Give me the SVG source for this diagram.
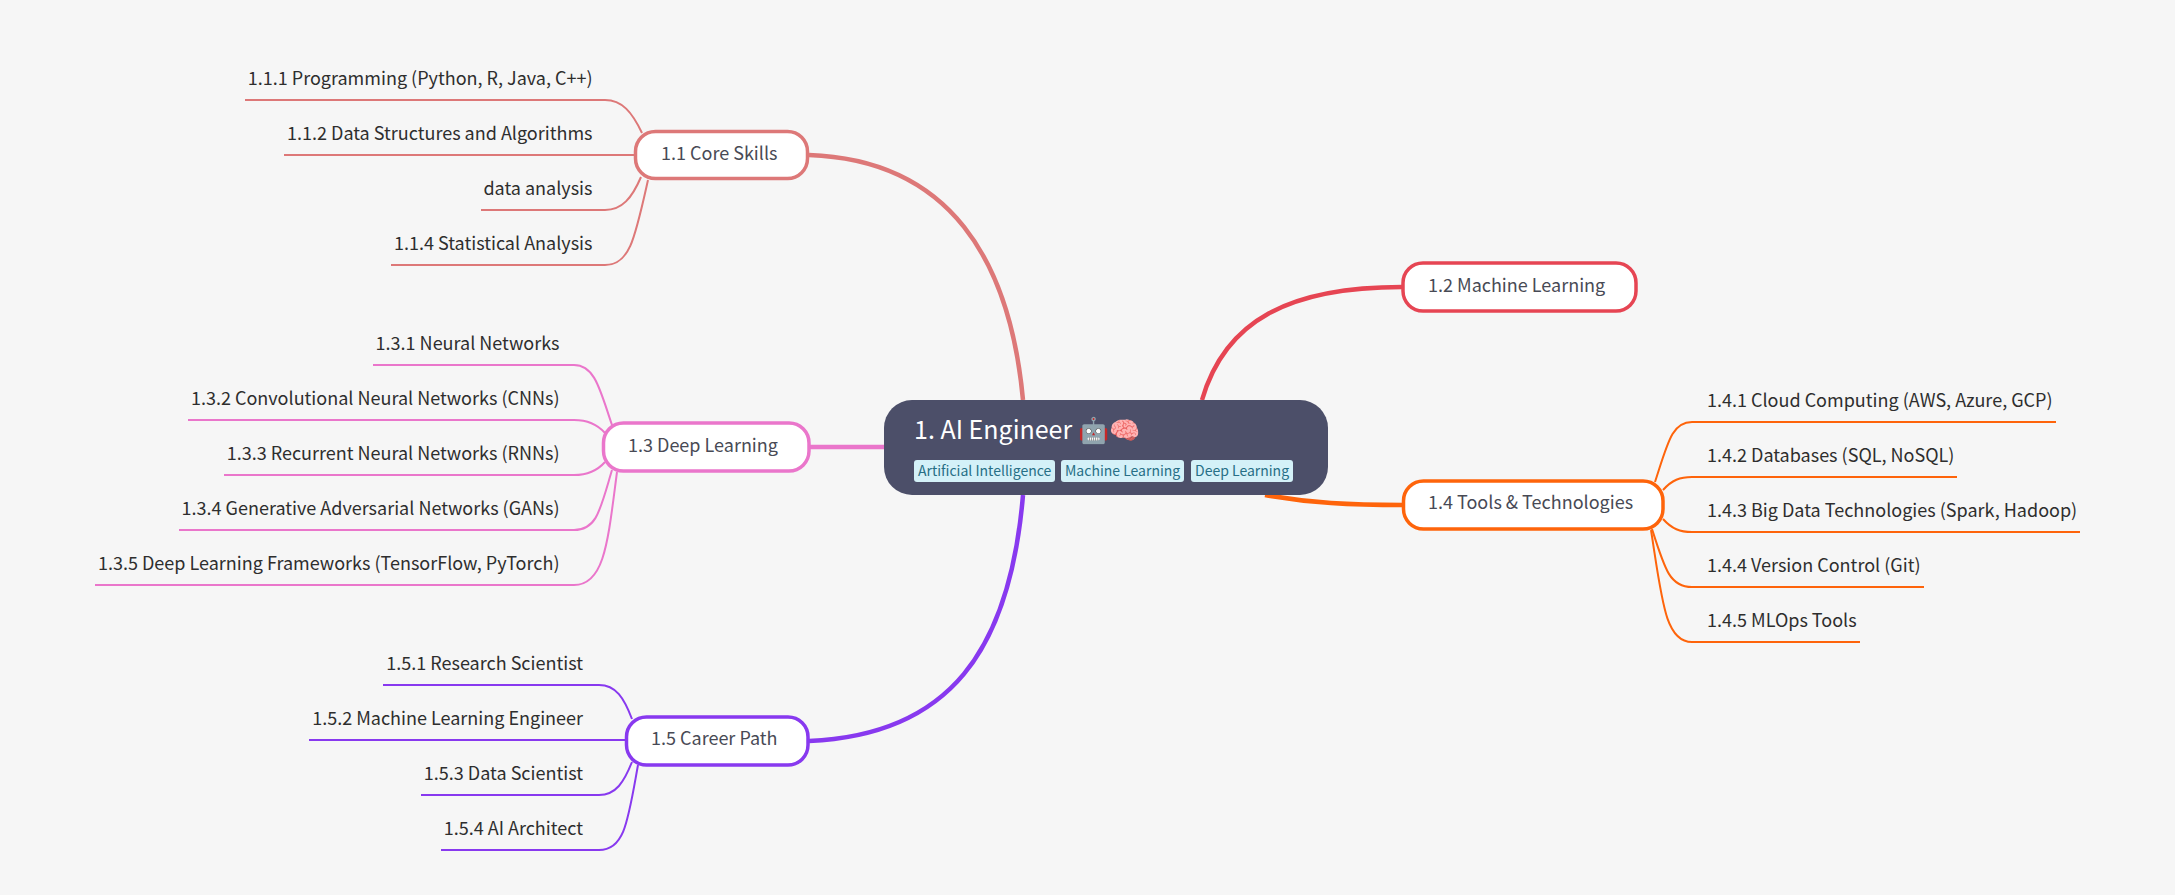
<svg xmlns="http://www.w3.org/2000/svg" width="2175" height="895" viewBox="0 0 2175 895">
<style>
text{font-family:"Noto Sans CJK SC","Noto Sans",sans-serif}
.sub{fill:none;stroke-width:2}
.main{fill:none;stroke-width:4.5}
.leaf{font-size:18px;fill:#2e2e2e}
.end{text-anchor:end}
.box{fill:#fff;stroke-width:3.5}
.topic{font-size:18px;fill:#484a55}
.tag{fill:#d4f1f8}
.tagt{font-size:14px;fill:#276f86}
.c11{stroke:#dd7878}.c12{stroke:#e64553}.c13{stroke:#ea76cb}.c14{stroke:#fe640b}.c15{stroke:#8839ef}
</style>
<rect width="2175" height="895" fill="#f6f6f6"/>
<g id="connectors">
<path class="main c11" d="M809 155C950 160 1010 260 1023 400"/>
<path class="main c12" d="M1202 400C1225 320 1290 287 1402 287"/>
<path class="main c13" d="M809 447H884"/>
<path class="main c14" d="M1265 495C1310 503 1350 505 1403 505"/>
<path class="main c15" d="M1023 495C1010 650 950 735 809 741"/>
<path class="sub c11" d="M245 100H605C622 100 632 112 642 133"/>
<path class="sub c11" d="M284 155H636"/>
<path class="sub c11" d="M481 210H605C622 210 632 198 641 177"/>
<path class="sub c11" d="M391 265H605C630 265 635 238 648 180"/>
<path class="sub c13" d="M373 365H574C595 365 600 390 612 425"/>
<path class="sub c13" d="M188 420H574C588 420 597 424 605 433"/>
<path class="sub c13" d="M224 475H574C588 475 597 471 605 462"/>
<path class="sub c13" d="M179 530H574C597 530 600 510 612 470"/>
<path class="sub c13" d="M95 585H574C605 585 608 540 617 472"/>
<path class="sub c14" d="M2056 422H1692C1672 422 1668 442 1655 482"/>
<path class="sub c14" d="M1957 477H1692C1680 477 1672 480 1663 490"/>
<path class="sub c14" d="M2080 532H1692C1680 532 1672 529 1663 519"/>
<path class="sub c14" d="M1924 587H1692C1670 587 1665 570 1652 529"/>
<path class="sub c14" d="M1860 642H1692C1665 642 1662 600 1651 530"/>
<path class="sub c15" d="M383 685H599C616 685 624 698 632 719"/>
<path class="sub c15" d="M309 740H627"/>
<path class="sub c15" d="M421 795H599C616 795 624 782 632 762"/>
<path class="sub c15" d="M441 850H599C625 850 628 820 638 765"/>
</g>
<g id="root">
<rect x="884" y="400" width="444" height="95" rx="28" fill="#4c4f69"/>
<text x="914" y="439" font-size="25" fill="#fff">1. AI Engineer 🤖🧠</text>
<rect class="tag" x="914" y="460" width="141" height="22" rx="3"/><text class="tagt" x="918" y="476">Artificial Intelligence</text>
<rect class="tag" x="1061" y="460" width="123" height="22" rx="3"/><text class="tagt" x="1065" y="476">Machine Learning</text>
<rect class="tag" x="1191" y="460" width="102" height="22" rx="3"/><text class="tagt" x="1195" y="476">Deep Learning</text>
</g>
<g id="n11"><rect class="box c11" x="635.5" y="131.5" width="172" height="47" rx="20"/><text class="topic" x="661" y="160">1.1 Core Skills</text></g>
<g id="n12"><rect class="box c12" x="1403" y="263" width="233" height="48" rx="20"/><text class="topic" x="1428" y="292">1.2 Machine Learning</text></g>
<g id="n13"><rect class="box c13" x="603.5" y="423" width="205.5" height="48" rx="20"/><text class="topic" x="628" y="452">1.3 Deep Learning</text></g>
<g id="n14"><rect class="box c14" x="1403.5" y="481" width="259.5" height="48" rx="20"/><text class="topic" x="1428" y="509">1.4 Tools &amp; Technologies</text></g>
<g id="n15"><rect class="box c15" x="626.5" y="717" width="181.5" height="48" rx="20"/><text class="topic" x="651" y="745">1.5 Career Path</text></g>
<g id="l111"><text class="leaf end" x="592.5" y="85">1.1.1 Programming (Python, R, Java, C++)</text></g>
<g id="l112"><text class="leaf end" x="592.5" y="140">1.1.2 Data Structures and Algorithms</text></g>
<g id="l113"><text class="leaf end" x="592.5" y="195">data analysis</text></g>
<g id="l114"><text class="leaf end" x="592.5" y="250">1.1.4 Statistical Analysis</text></g>
<g id="l131"><text class="leaf end" x="559.5" y="350">1.3.1 Neural Networks</text></g>
<g id="l132"><text class="leaf end" x="559.5" y="405">1.3.2 Convolutional Neural Networks (CNNs)</text></g>
<g id="l133"><text class="leaf end" x="559.5" y="460">1.3.3 Recurrent Neural Networks (RNNs)</text></g>
<g id="l134"><text class="leaf end" x="559.5" y="515">1.3.4 Generative Adversarial Networks (GANs)</text></g>
<g id="l135"><text class="leaf end" x="559.5" y="570">1.3.5 Deep Learning Frameworks (TensorFlow, PyTorch)</text></g>
<g id="l141"><text class="leaf" x="1707" y="407">1.4.1 Cloud Computing (AWS, Azure, GCP)</text></g>
<g id="l142"><text class="leaf" x="1707" y="462">1.4.2 Databases (SQL, NoSQL)</text></g>
<g id="l143"><text class="leaf" x="1707" y="517">1.4.3 Big Data Technologies (Spark, Hadoop)</text></g>
<g id="l144"><text class="leaf" x="1707" y="572">1.4.4 Version Control (Git)</text></g>
<g id="l145"><text class="leaf" x="1707" y="627">1.4.5 MLOps Tools</text></g>
<g id="l151"><text class="leaf end" x="583" y="670">1.5.1 Research Scientist</text></g>
<g id="l152"><text class="leaf end" x="583" y="725">1.5.2 Machine Learning Engineer</text></g>
<g id="l153"><text class="leaf end" x="583" y="780">1.5.3 Data Scientist</text></g>
<g id="l154"><text class="leaf end" x="583" y="835">1.5.4 AI Architect</text></g>
</svg>
